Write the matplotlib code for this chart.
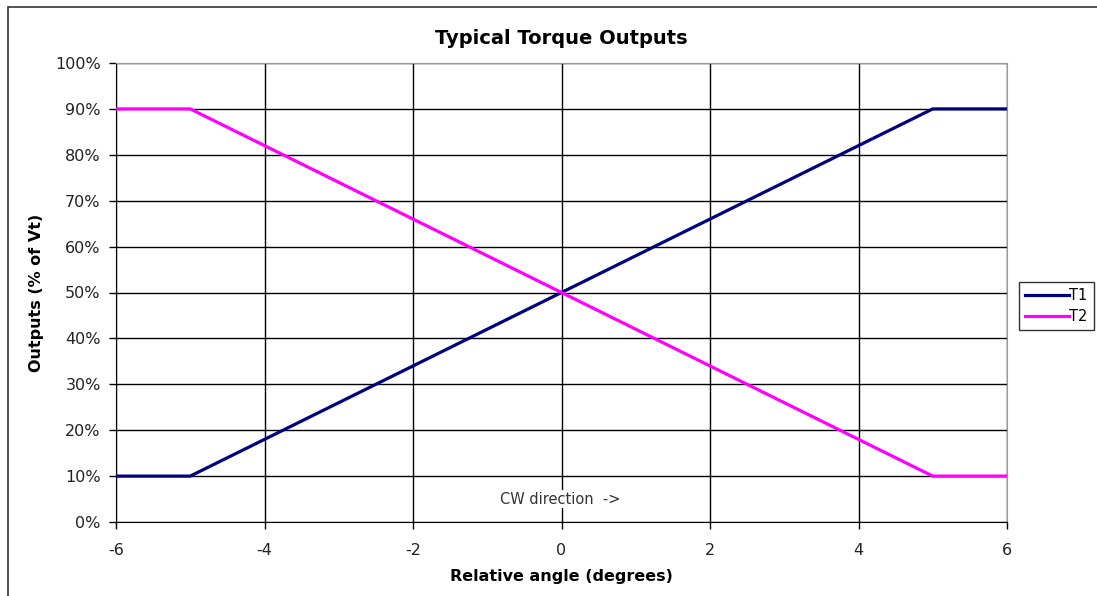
import matplotlib.pyplot as plt
from matplotlib.patches import Rectangle
from matplotlib.ticker import PercentFormatter

plt.rcParams['axes.unicode_minus'] = False

# Data
angle = [-6, -5, 5, 6]
t1 = [10, 10, 90, 90]
t2 = [90, 90, 10, 10]
x_ticks = [-6, -4, -2, 0, 2, 4, 6]
y_ticks = list(range(0, 101, 10))

W, H = 1097, 596
fig = plt.figure(figsize=(W / 100, H / 100), dpi=100)
fig.patch.set_facecolor('white')

# outer chart frame (top and left edges visible)
fig.patches.append(Rectangle((8 / W, -0.1), 1.2, 1 - 7 / H + 0.1,
                             transform=fig.transFigure, fill=False,
                             edgecolor='#333333', linewidth=1.2))

ax = fig.add_axes([116 / W, 1 - 522 / H, (1007 - 116) / W, (522 - 63) / H])
ax.plot(angle, t1, color='#000080', linewidth=2.3, label='T1', zorder=3)
ax.plot(angle, t2, color='#ff00ff', linewidth=2.3, label='T2', zorder=3)

ax.set_xlim(-6, 6)
ax.set_ylim(0, 100)
ax.set_xticks(x_ticks)
ax.set_yticks(y_ticks)
ax.yaxis.set_major_formatter(PercentFormatter(decimals=0))
ax.grid(True, color='black', linewidth=1.0)
ax.set_axisbelow(True)
ax.tick_params(direction='out', length=5, width=1, labelsize=11.5,
               colors='black', labelcolor='#222222', pad=6)
ax.tick_params(axis='x', pad=10)

for side in ('top', 'right'):
    ax.spines[side].set_color('#999999')
for side in ('left', 'bottom'):
    ax.spines[side].set_color('black')

ax.set_title('Typical Torque Outputs', fontsize=14, fontweight='bold', pad=14)
ax.set_xlabel('Relative angle (degrees)', fontsize=11.5, fontweight='bold', labelpad=8)
ax.set_ylabel('Outputs (% of Vt)', fontsize=11.5, fontweight='bold', labelpad=8)

ax.text(-0.83, 5, 'CW direction  ->', fontsize=10.5, color='#333333',
        ha='left', va='center', zorder=4,
        bbox=dict(facecolor='white', edgecolor='none', pad=1))

fig.legend(loc='upper left', bbox_to_anchor=(1019 / W, 1 - 282 / H),
           frameon=True, fancybox=False, edgecolor='black', fontsize=10.5,
           handlelength=3.0, handletextpad=0.05, borderpad=0.4,
           labelspacing=0.4, borderaxespad=0)

fig.savefig('out.png', dpi=100)
